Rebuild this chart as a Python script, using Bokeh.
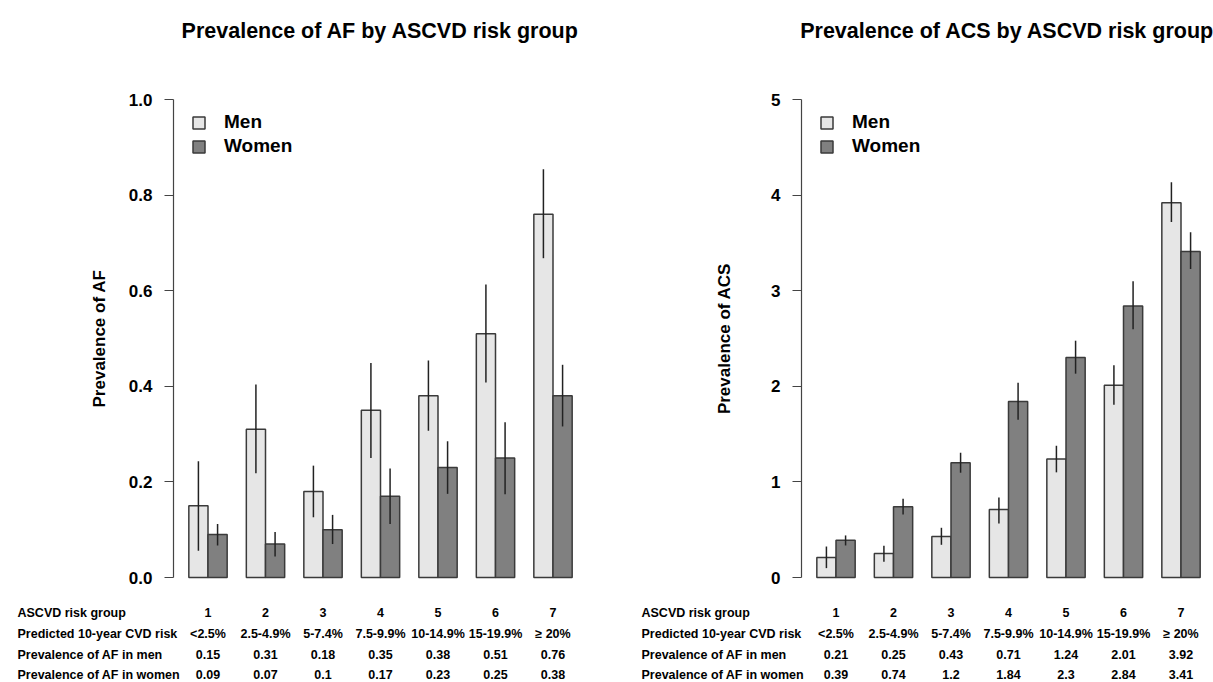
import numpy as np
from bokeh.plotting import figure
from bokeh.layouts import row
from bokeh.models import (Range1d, FixedTicker, PrintfTickFormatter, Legend, LegendItem)
from bokeh.core.properties import value
from bokeh.embed import file_html
from bokeh.resources import INLINE

# ---------------- data ----------------
groups = [1, 2, 3, 4, 5, 6, 7]
risk_labels = ["<2.5%", "2.5-4.9%", "5-7.4%", "7.5-9.9%", "10-14.9%", "15-19.9%", "\u2265 20%"]

af_men = [0.15, 0.31, 0.18, 0.35, 0.38, 0.51, 0.76]
af_men_lo = [0.056, 0.218, 0.126, 0.250, 0.307, 0.408, 0.668]
af_men_hi = [0.243, 0.404, 0.234, 0.449, 0.454, 0.613, 0.854]
af_women = [0.09, 0.07, 0.10, 0.17, 0.23, 0.25, 0.38]
af_women_lo = [0.067, 0.044, 0.070, 0.112, 0.175, 0.174, 0.316]
af_women_hi = [0.112, 0.095, 0.131, 0.228, 0.285, 0.325, 0.445]

acs_men = [0.21, 0.25, 0.43, 0.71, 1.24, 2.01, 3.92]
acs_men_lo = [0.098, 0.164, 0.342, 0.565, 1.10, 1.808, 3.719]
acs_men_hi = [0.324, 0.332, 0.520, 0.837, 1.378, 2.219, 4.134]
acs_women = [0.39, 0.74, 1.2, 1.84, 2.3, 2.84, 3.41]
acs_women_lo = [0.335, 0.659, 1.096, 1.651, 2.132, 2.596, 3.227]
acs_women_hi = [0.440, 0.824, 1.305, 2.038, 2.477, 3.098, 3.611]

af_ticks = [0.0, 0.2, 0.4, 0.6, 0.8, 1.0]
acs_ticks = [0, 1, 2, 3, 4, 5]

row_labels_af = ["ASCVD risk group", "Predicted 10-year CVD risk",
                 "Prevalence of AF in men", "Prevalence of AF in women"]
row_labels_acs = ["ASCVD risk group", "Predicted 10-year CVD risk",
                  "Prevalence of AF in men", "Prevalence of AF in women"]

# ---------------- layout / style ----------------
FONT = "Liberation Sans"
MEN_FILL = "#e6e6e6"
WOMEN_FILL = "#808080"
EDGE = "#3a3a3a"
H = 682
UNIT = 414 / 21.6          # px per bar unit (x)
ZERO_Y = 577               # screen y of value 0
TOP_Y = 99                 # screen y of value ymax
ROW_Y = [612, 633, 654, 674]  # screen y of table rows
TITLE_Y = 30


def panel(title, ylabel, men, men_lo, men_hi, women, women_lo, women_hi,
          ticks, ymax, fmt, width, axis_px, label_standoff,
          row_labels, label_px, title_shift):
    g = np.array(groups)
    xm = 3 * g - 1.5
    xw = 3 * g - 0.5
    xc = 3 * g - 1
    x_start = 0.2 - axis_px / UNIT
    x_end = x_start + width / UNIT
    yunit = (ZERO_Y - TOP_Y) / ymax
    to_y = lambda s: (ZERO_Y - s) / yunit
    p = figure(width=width, height=H, output_backend="svg", toolbar_location=None,
               x_range=Range1d(x_start, x_end), y_range=Range1d(to_y(H), to_y(0)),
               min_border=0, x_axis_location=None)
    p.outline_line_color = None
    p.grid.visible = False

    ax = p.yaxis[0]
    ax.fixed_location = 0.2
    ax.ticker = FixedTicker(ticks=ticks)
    ax.formatter = PrintfTickFormatter(format=fmt)
    ax.bounds = (0, ymax)
    ax.axis_line_color = "#444444"
    ax.axis_line_width = 1.2
    ax.major_tick_line_color = "#444444"
    ax.major_tick_line_width = 1.2
    ax.major_tick_out = 9
    ax.major_tick_in = 0
    ax.minor_tick_line_color = None
    ax.major_label_standoff = 12
    ax.major_label_text_font = FONT
    ax.major_label_text_font_style = "bold"
    ax.major_label_text_font_size = "17px"
    ax.major_label_text_color = "black"
    ax.axis_label = ylabel
    ax.axis_label_text_font = FONT
    ax.axis_label_text_font_style = "bold"
    ax.axis_label_text_font_size = "17px"
    ax.axis_label_text_color = "black"
    ax.axis_label_standoff = label_standoff

    rm = p.vbar(x=xm, top=men, bottom=0, width=1.0, fill_color=MEN_FILL,
                line_color=EDGE, line_width=1.5)
    rw = p.vbar(x=xw, top=women, bottom=0, width=1.0, fill_color=WOMEN_FILL,
                line_color=EDGE, line_width=1.5)
    p.segment(x0=xm, y0=men_lo, x1=xm, y1=men_hi, line_color="#222222", line_width=1.5)
    p.segment(x0=xw, y0=women_lo, x1=xw, y1=women_hi, line_color="#222222", line_width=1.5)

    leg = Legend(items=[LegendItem(label="Men", renderers=[rm]),
                        LegendItem(label="Women", renderers=[rw])],
                 location=(axis_px + 18, 525), padding=0, margin=0, spacing=2,
                 glyph_width=15, glyph_height=15, label_height=18,
                 label_standoff=18, border_line_color=None, background_fill_alpha=0,
                 label_text_font=FONT, label_text_font_style="bold",
                 label_text_font_size="19px", label_text_color="black")
    p.add_layout(leg)

    # title
    p.text(x=[(0.2 + 21.8) / 2 - title_shift / UNIT], y=[to_y(TITLE_Y)], text=[title],
           text_align="center", text_baseline="middle", text_font=value(FONT),
           text_font_style="bold", text_font_size="21.5px", text_color="black")

    # table below the bars
    cols = [[str(v) for v in groups], risk_labels,
            [str(v) for v in men], [str(v) for v in women]]
    for ry, vals in zip(ROW_Y, cols):
        p.text(x=xc, y=[to_y(ry)] * len(vals), text=vals, text_align="center",
               text_baseline="middle", text_font=value(FONT), text_font_style="bold",
               text_font_size="12.5px", text_color="black")
    lx = x_start + label_px / UNIT
    p.text(x=[lx] * len(row_labels), y=[to_y(ry) for ry in ROW_Y], text=row_labels,
           text_align="left", text_baseline="middle", text_font=value(FONT),
           text_font_style="bold", text_font_size="12.5px", text_color="black")
    return p


pL = panel("Prevalence of AF by ASCVD risk group", "Prevalence of AF",
           af_men, af_men_lo, af_men_hi, af_women, af_women_lo, af_women_hi,
           af_ticks, 1.0, "%.1f", 600, 173, 17, row_labels_af, 17, 0)
pR = panel("Prevalence of ACS by ASCVD risk group", "Prevalence of ACS",
           acs_men, acs_men_lo, acs_men_hi, acs_women, acs_women_lo, acs_women_hi,
           acs_ticks, 5.0, "%d", 613, 201, 34, row_labels_acs, 41, 1)

layout = row(pL, pR)
open("out.html", "w").write(file_html(layout, INLINE))
